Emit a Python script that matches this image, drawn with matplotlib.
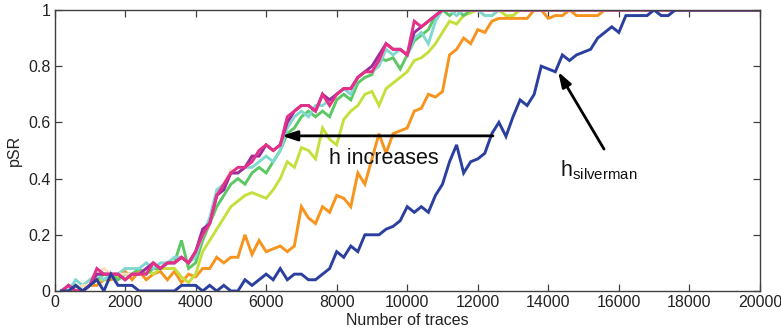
import numpy as np
import matplotlib
matplotlib.use("Agg")
import matplotlib.pyplot as plt

plt.rcParams["font.family"] = ["Liberation Sans", "DejaVu Sans"]
plt.rcParams["mathtext.fontset"] = "custom"
plt.rcParams["mathtext.rm"] = "Liberation Sans"

# number of traces (every 200 traces)
traces = np.arange(200, 20001, 200)

# pSR for the Silverman bandwidth
psr_silverman = [
    0, 0, 0.02, 0.0, 0.02, 0.04, 0.0, 0.06, 0.02, 0.02,
    0.02, 0.0, 0, 0, 0, 0, 0, 0.02, 0.02, 0.02,
    0.0, 0.02, 0.0, 0.02, 0, 0, 0.04, 0.02, 0.04, 0.06,
    0.04, 0.08, 0.04, 0.06, 0.06, 0.04, 0.04, 0.06, 0.08, 0.14,
    0.12, 0.16, 0.14, 0.20, 0.20, 0.20, 0.22, 0.23, 0.25, 0.30,
    0.28, 0.30, 0.28, 0.34, 0.38, 0.46, 0.52, 0.42, 0.46, 0.47,
    0.49, 0.56, 0.60, 0.55, 0.62, 0.68, 0.66, 0.70, 0.80, 0.79,
    0.78, 0.84, 0.82, 0.84, 0.85, 0.86, 0.90, 0.92, 0.94, 0.92,
    0.98, 0.98, 0.98, 0.98, 1.0, 0.98, 0.98, 1.0, 1.0, 1.0,
    1.0, 1.0, 1.0, 1.0, 1.0, 1.0, 1.0, 1.0, 1.0, 1.0,
]

# pSR for increasing bandwidths h
psr_h1 = [
    0, 0.0, 0.02, 0.0, 0.02, 0.02, 0.04, 0.04, 0.05, 0.07,
    0.04, 0.07, 0.04, 0.06, 0.07, 0.04, 0.07, 0.03, 0.06, 0.05,
    0.08, 0.08, 0.12, 0.10, 0.12, 0.12, 0.20, 0.13, 0.18, 0.14,
    0.15, 0.16, 0.14, 0.16, 0.30, 0.26, 0.24, 0.30, 0.28, 0.34,
    0.33, 0.30, 0.42, 0.38, 0.47, 0.56, 0.49, 0.56, 0.57, 0.58,
    0.64, 0.65, 0.70, 0.69, 0.71, 0.84, 0.86, 0.90, 0.88, 0.93,
    0.92, 0.96, 0.97, 0.97, 0.97, 0.97, 0.97, 1.0, 1.0, 0.97,
    0.98, 0.98, 1.0, 0.98, 0.98, 0.98, 0.98, 1.0, 1.0, 1.0,
    1.0, 1.0, 1.0, 1.0, 1.0, 1.0, 1.0, 1.0, 1.0, 1.0,
    1.0, 1.0, 1.0, 1.0, 1.0, 1.0, 1.0, 1.0, 1.0, 1.0,
]

psr_h2 = [
    0, 0, 0.0, 0.02, 0.02, 0.04, 0.04, 0.06, 0.05, 0.06,
    0.06, 0.06, 0.08, 0.06, 0.08, 0.08, 0.08, 0.05, 0.03, 0.06,
    0.14, 0.18, 0.22, 0.26, 0.30, 0.32, 0.34, 0.35, 0.34, 0.33,
    0.36, 0.40, 0.46, 0.44, 0.51, 0.50, 0.47, 0.58, 0.54, 0.52,
    0.61, 0.64, 0.66, 0.70, 0.71, 0.66, 0.72, 0.74, 0.76, 0.78,
    0.82, 0.83, 0.85, 0.88, 0.92, 0.96, 0.95, 0.98, 0.99, 1.0,
    0.98, 0.98, 1.0, 0.98, 0.98, 1.0, 1.0, 1.0, 1.0, 1.0,
    1.0, 1.0, 1.0, 1.0, 1.0, 1.0, 1.0, 1.0, 1.0, 1.0,
    1.0, 1.0, 1.0, 1.0, 1.0, 1.0, 1.0, 1.0, 1.0, 1.0,
    1.0, 1.0, 1.0, 1.0, 1.0, 1.0, 1.0, 1.0, 1.0, 1.0,
]

psr_h3 = [
    0, 0.0, 0.02, 0.0, 0.02, 0.04, 0.06, 0.06, 0.04, 0.06,
    0.06, 0.08, 0.06, 0.08, 0.08, 0.10, 0.10, 0.18, 0.08, 0.10,
    0.18, 0.24, 0.30, 0.34, 0.38, 0.40, 0.38, 0.42, 0.44, 0.42,
    0.46, 0.50, 0.56, 0.58, 0.62, 0.64, 0.62, 0.64, 0.62, 0.68,
    0.70, 0.68, 0.74, 0.76, 0.77, 0.83, 0.82, 0.83, 0.79, 0.84,
    0.89, 0.91, 0.93, 0.98, 1.0, 0.98, 1.0, 0.98, 1.0, 1.0,
    1.0, 1.0, 1.0, 1.0, 1.0, 1.0, 1.0, 1.0, 1.0, 1.0,
    1.0, 1.0, 1.0, 1.0, 1.0, 1.0, 1.0, 1.0, 1.0, 1.0,
    1.0, 1.0, 1.0, 1.0, 1.0, 1.0, 1.0, 1.0, 1.0, 1.0,
    1.0, 1.0, 1.0, 1.0, 1.0, 1.0, 1.0, 1.0, 1.0, 1.0,
]

psr_h4 = [
    0, 0.0, 0.04, 0.02, 0.04, 0.06, 0.04, 0.06, 0.06, 0.08,
    0.08, 0.08, 0.10, 0.08, 0.10, 0.10, 0.12, 0.12, 0.10, 0.12,
    0.20, 0.26, 0.36, 0.38, 0.42, 0.42, 0.44, 0.44, 0.46, 0.48,
    0.46, 0.50, 0.58, 0.62, 0.64, 0.62, 0.66, 0.66, 0.68, 0.70,
    0.72, 0.70, 0.76, 0.78, 0.78, 0.80, 0.86, 0.84, 0.86, 0.84,
    0.90, 0.92, 0.88, 0.96, 1.0, 1.0, 0.98, 1.0, 1.0, 1.0,
    0.98, 0.98, 1.0, 1.0, 1.0, 1.0, 1.0, 1.0, 1.0, 1.0,
    1.0, 1.0, 1.0, 1.0, 1.0, 1.0, 1.0, 1.0, 1.0, 1.0,
    1.0, 1.0, 1.0, 1.0, 1.0, 1.0, 1.0, 1.0, 1.0, 1.0,
    1.0, 1.0, 1.0, 1.0, 1.0, 1.0, 1.0, 1.0, 1.0, 1.0,
]

psr_h5 = [
    0, 0.02, 0.0, 0.02, 0.02, 0.06, 0.08, 0.06, 0.06, 0.06,
    0.06, 0.06, 0.08, 0.10, 0.08, 0.10, 0.10, 0.12, 0.10, 0.14,
    0.20, 0.24, 0.34, 0.38, 0.43, 0.42, 0.44, 0.46, 0.50, 0.52,
    0.50, 0.52, 0.60, 0.64, 0.66, 0.66, 0.64, 0.70, 0.66, 0.70,
    0.72, 0.72, 0.76, 0.78, 0.78, 0.82, 0.88, 0.86, 0.86, 0.84,
    0.96, 0.94, 0.96, 0.98, 1.0, 1.0, 1.0, 1.0, 1.0, 1.0,
    1.0, 1.0, 1.0, 1.0, 1.0, 1.0, 1.0, 1.0, 1.0, 1.0,
    1.0, 1.0, 1.0, 1.0, 1.0, 1.0, 1.0, 1.0, 1.0, 1.0,
    1.0, 1.0, 1.0, 1.0, 1.0, 1.0, 1.0, 1.0, 1.0, 1.0,
    1.0, 1.0, 1.0, 1.0, 1.0, 1.0, 1.0, 1.0, 1.0, 1.0,
]

psr_h6 = [
    0, 0.02, 0.0, 0.0, 0.02, 0.06, 0.06, 0.06, 0.06, 0.04,
    0.06, 0.06, 0.08, 0.10, 0.08, 0.10, 0.10, 0.12, 0.10, 0.14,
    0.22, 0.24, 0.34, 0.36, 0.42, 0.42, 0.44, 0.48, 0.48, 0.52,
    0.50, 0.52, 0.60, 0.64, 0.66, 0.66, 0.64, 0.70, 0.68, 0.70,
    0.72, 0.72, 0.76, 0.78, 0.80, 0.84, 0.88, 0.86, 0.86, 0.84,
    0.92, 0.94, 0.96, 0.98, 1.0, 1.0, 1.0, 1.0, 1.0, 1.0,
    1.0, 1.0, 1.0, 1.0, 1.0, 1.0, 1.0, 1.0, 1.0, 1.0,
    1.0, 1.0, 1.0, 1.0, 1.0, 1.0, 1.0, 1.0, 1.0, 1.0,
    1.0, 1.0, 1.0, 1.0, 1.0, 1.0, 1.0, 1.0, 1.0, 1.0,
    1.0, 1.0, 1.0, 1.0, 1.0, 1.0, 1.0, 1.0, 1.0, 1.0,
]

psr_h7 = [
    0, 0.02, 0.0, 0.0, 0.02, 0.08, 0.06, 0.06, 0.06, 0.04,
    0.06, 0.06, 0.06, 0.10, 0.08, 0.10, 0.10, 0.12, 0.10, 0.14,
    0.20, 0.24, 0.34, 0.38, 0.42, 0.44, 0.44, 0.46, 0.50, 0.52,
    0.50, 0.52, 0.62, 0.64, 0.66, 0.66, 0.64, 0.70, 0.66, 0.70,
    0.72, 0.72, 0.76, 0.78, 0.78, 0.82, 0.88, 0.86, 0.86, 0.84,
    0.96, 0.94, 0.96, 0.98, 1.0, 1.0, 1.0, 1.0, 1.0, 1.0,
    1.0, 1.0, 1.0, 1.0, 1.0, 1.0, 1.0, 1.0, 1.0, 1.0,
    1.0, 1.0, 1.0, 1.0, 1.0, 1.0, 1.0, 1.0, 1.0, 1.0,
    1.0, 1.0, 1.0, 1.0, 1.0, 1.0, 1.0, 1.0, 1.0, 1.0,
    1.0, 1.0, 1.0, 1.0, 1.0, 1.0, 1.0, 1.0, 1.0, 1.0,
]

curves = [psr_h1, psr_h2, psr_h3, psr_h4, psr_h5, psr_h6, psr_h7]
colors = ["#F7941E", "#C5DF3C", "#5CC864", "#80D9D0", "#F9DFC0", "#9C2C9E", "#E5308A"]

x_ticks = np.arange(0, 20001, 2000)
y_ticks = [0, 0.2, 0.4, 0.6, 0.8, 1]
y_tick_labels = ["0", "0.2", "0.4", "0.6", "0.8", "1"]

fig = plt.figure(figsize=(7.81, 3.32), dpi=100)
ax = fig.add_axes([0.0698, 0.1235, 0.9032, 0.8465])

for vals, col in zip(curves, colors):
    ax.plot(traces, vals, color=col, lw=2.1, solid_joinstyle="miter")
ax.plot(traces, psr_silverman, color="#2B3F9E", lw=2.1, solid_joinstyle="miter")

ax.set_xlim(0, 20000)
ax.set_ylim(0, 1)
ax.set_xticks(x_ticks)
ax.set_xticklabels([str(t) for t in x_ticks])
ax.set_yticks(y_ticks)
ax.set_yticklabels(y_tick_labels)
ax.tick_params(direction="in", length=5, width=0.9, top=True, right=True,
               labelsize=11.5, colors="#404040", labelcolor="#222222", pad=3)
for s in ax.spines.values():
    s.set_color("#404040")
    s.set_linewidth(1.0)

ax.set_xlabel("Number of traces", fontsize=11.5, color="#222222", labelpad=2)
ax.set_ylabel("pSR", fontsize=11.5, color="#222222", labelpad=4)

arrow_kw = dict(arrowstyle="-|>,head_length=0.9,head_width=0.3", color="black", lw=2.0,
                shrinkA=0, shrinkB=0)
ax.annotate("", xy=(6450, 0.552), xytext=(12430, 0.552), arrowprops=arrow_kw)
ax.text(9340, 0.47, "h increases", fontsize=15.5, ha="center", va="center", color="#111111")

ax.annotate("", xy=(14280, 0.78), xytext=(15580, 0.505), arrowprops=arrow_kw)
ax.text(14340, 0.43, r"h$_{\rm silverman}$", fontsize=15.5, ha="left", va="center", color="#111111")

fig.savefig("out.png", dpi=100)
